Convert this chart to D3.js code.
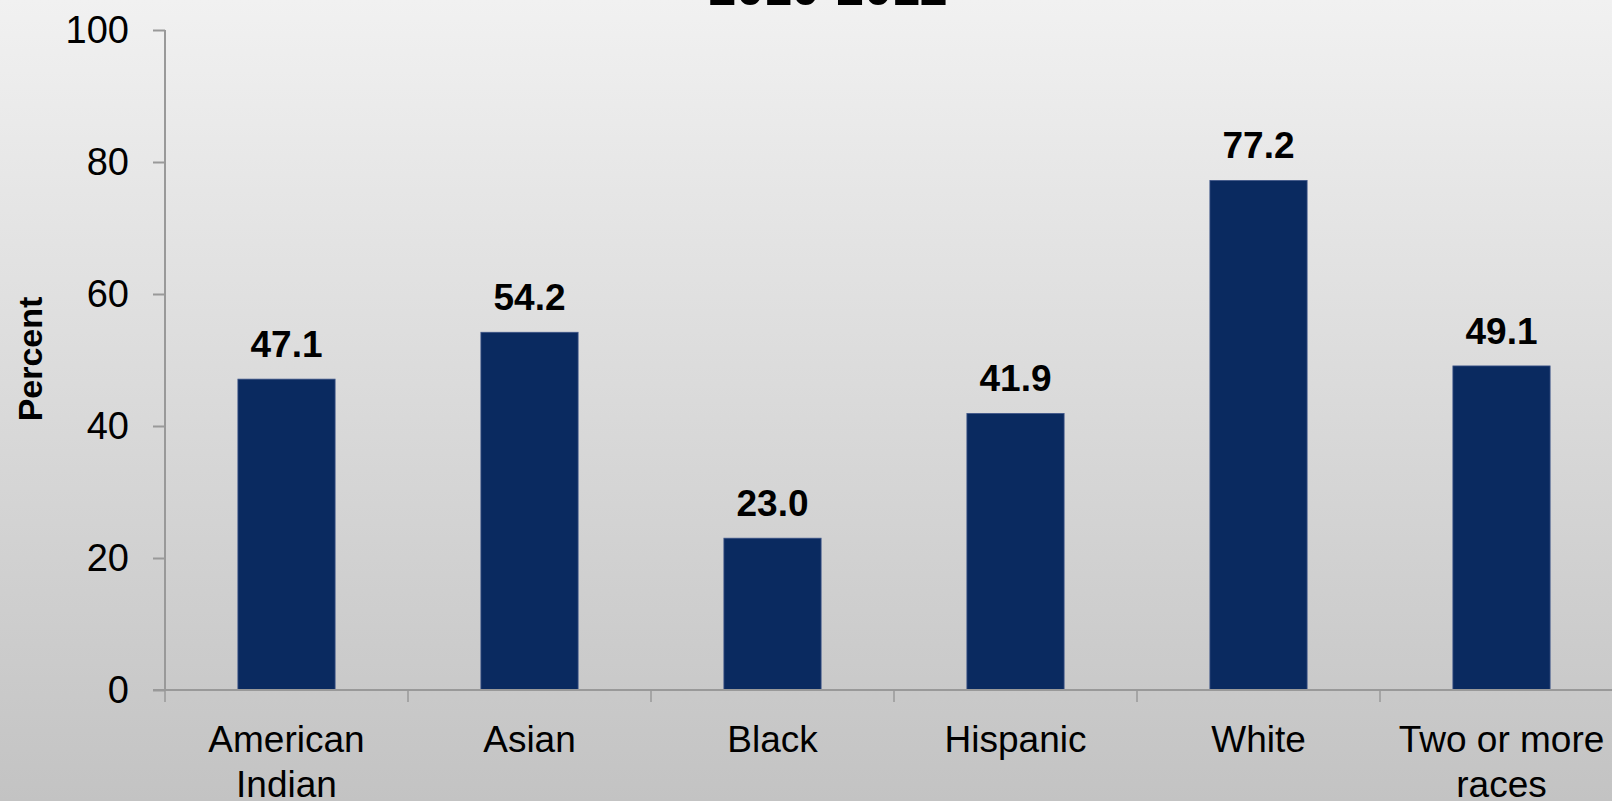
<!DOCTYPE html>
<html>
<head>
<meta charset="utf-8">
<script src="https://cdn.jsdelivr.net/npm/d3@7"></script>
<style>
  html, body { margin: 0; padding: 0; overflow: hidden; }
  svg { display: block; }
</style>
</head>
<body>
<svg id="chart" width="1612" height="801"></svg>
<script>
// Share of students, by race/ethnicity, 2010-2012
const title = "2010-2012";
const categories = ["American Indian", "Asian", "Black", "Hispanic", "White", "Two or more races"];
const values = [47.1, 54.2, 23.0, 41.9, 77.2, 49.1];
const yTicks = [0, 20, 40, 60, 80, 100];
const yLabel = "Percent";

const W = 1612, H = 801;
const svg = d3.select("#chart");

// background gradient
const defs = svg.append("defs");
const grad = defs.append("linearGradient")
  .attr("id", "bg").attr("x1", 0).attr("y1", 0).attr("x2", 0).attr("y2", 1);
grad.append("stop").attr("offset", "0%").attr("stop-color", "#f1f1f1");
grad.append("stop").attr("offset", "100%").attr("stop-color", "#c3c3c3");
svg.append("rect").attr("width", W).attr("height", H).attr("fill", "url(#bg)");

const x0 = 165, y0 = 690, yTop = 30;
const step = 243;
const x = d3.scaleBand()
  .domain(categories)
  .range([x0, x0 + step * categories.length])
  .paddingInner(0.6)
  .paddingOuter(0.3);
const y = d3.scaleLinear().domain([0, 100]).range([y0, yTop]);

const font = "'Liberation Sans', Arial, sans-serif";

// title (runs off the top edge)
svg.append("text")
  .attr("x", 828).attr("y", 5)
  .attr("text-anchor", "middle")
  .style("font-family", font).style("font-weight", "bold").style("font-size", "50px")
  .attr("fill", "#000")
  .text(title);

// bars
svg.append("g").selectAll("rect")
  .data(values)
  .join("rect")
  .attr("x", (d, i) => x(categories[i]))
  .attr("y", d => y(d))
  .attr("width", x.bandwidth())
  .attr("height", d => y0 - y(d))
  .attr("fill", "#0a2a60")
  .attr("stroke", "#3d5488")
  .attr("stroke-width", 0.8);

// value labels
svg.append("g").selectAll("text")
  .data(values)
  .join("text")
  .attr("x", (d, i) => x(categories[i]) + x.bandwidth() / 2)
  .attr("y", d => y(d) - 22)
  .attr("text-anchor", "middle")
  .style("font-family", font).style("font-weight", "bold").style("font-size", "37px")
  .attr("fill", "#000")
  .text(d => d.toFixed(1));

// y axis
const yAxis = svg.append("g")
  .attr("transform", `translate(${x0},0)`)
  .call(d3.axisLeft(y).tickValues(yTicks).tickSize(12).tickPadding(24));
yAxis.select(".domain").attr("stroke", "#999").attr("stroke-width", 2)
  .attr("d", `M0,${yTop}V${y0}`);
yAxis.selectAll(".tick line").attr("stroke", "#999").attr("stroke-width", 2);
yAxis.selectAll(".tick text")
  .style("font-family", font).style("font-size", "38px").attr("fill", "#000");

// x axis with boundary ticks between categories
const xAxisG = svg.append("g").attr("transform", `translate(0,${y0})`);
xAxisG.append("line")
  .attr("x1", x0 - 12).attr("x2", W)
  .attr("stroke", "#999").attr("stroke-width", 2);
const bounds = d3.range(categories.length + 1).map(i => x.range()[0] + i * x.step());
xAxisG.selectAll("line.sep")
  .data(bounds)
  .join("line")
  .attr("class", "sep")
  .attr("x1", d => d).attr("x2", d => d)
  .attr("y1", 0).attr("y2", 12)
  .attr("stroke", "#999").attr("stroke-width", 1.5);

// category labels, wrapped within the band step
const catText = xAxisG.selectAll("text.cat")
  .data(categories)
  .join("text")
  .attr("class", "cat")
  .attr("x", d => x(d) + x.bandwidth() / 2)
  .attr("y", 62)
  .attr("text-anchor", "middle")
  .style("font-family", font).style("font-size", "37px")
  .attr("fill", "#000")
  .text(d => d);

catText.each(function (d) {
  const t = d3.select(this);
  const words = d.split(" ");
  const cx = t.attr("x");
  t.text(null);
  let line = [];
  let lineNo = 0;
  let tspan = t.append("tspan").attr("x", cx).attr("dy", 0);
  for (const w of words) {
    line.push(w);
    tspan.text(line.join(" "));
    if (tspan.node().getComputedTextLength() > x.step() - 10 && line.length > 1) {
      line.pop();
      tspan.text(line.join(" "));
      line = [w];
      lineNo++;
      tspan = t.append("tspan").attr("x", cx).attr("dy", 45).text(w);
    }
  }
});

// y axis title
svg.append("text")
  .attr("transform", "translate(42,359) rotate(-90)")
  .attr("text-anchor", "middle")
  .style("font-family", font).style("font-weight", "bold").style("font-size", "34px")
  .attr("fill", "#000")
  .text(yLabel);
</script>
</body>
</html>
